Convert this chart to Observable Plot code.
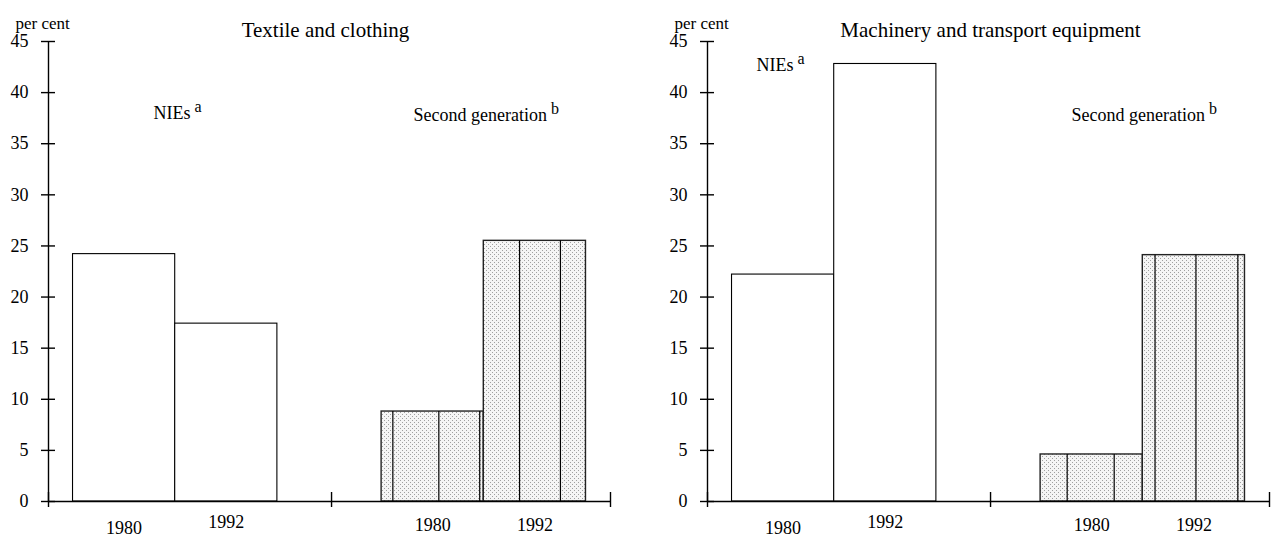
<!DOCTYPE html>
<html>
<head>
<meta charset="utf-8">
<script src="https://cdn.jsdelivr.net/npm/d3@7"></script>
<script src="https://cdn.jsdelivr.net/npm/@observablehq/plot@0.6"></script>
<style>
  html, body { margin: 0; padding: 0; background: #fff; }
  #wrap { display: flex; width: 1276px; height: 536px; overflow: hidden; }
  #wrap svg { display: block; }
</style>
</head>
<body>
<svg width="0" height="0" style="position:absolute">
  <defs>
    <pattern id="dots" width="4" height="4" patternUnits="userSpaceOnUse">
      <rect width="4" height="4" fill="#f5f5f5"></rect>
      <rect x="0" y="0" width="1" height="1" fill="#a0a0a0"></rect>
      <rect x="2" y="2" width="1" height="1" fill="#a0a0a0"></rect>
    </pattern>
  </defs>
</svg>
<div id="wrap"></div>
<script>
// ---- data ----
const groups = ["NIEs", "Second generation"];
const groupNotes = ["a", "b"];
const years = ["1980", "1992"];
const panelTitles = ["Textile and clothing", "Machinery and transport equipment"];
// order: NIEs 1980, NIEs 1992, Second generation 1980, Second generation 1992
const textileShares = [24.2, 17.4, 8.8, 25.5];
const machineryShares = [22.2, 42.8, 4.6, 24.1];
const yTicks = [0, 5, 10, 15, 20, 25, 30, 35, 40, 45];
const yUnit = "per cent";
// seams of the shaded fill inside each bar (fraction of bar width)
const textileSeams = [[], [], [0.11, 0.56, 0.96], [0.35, 0.75]];
const machinerySeams = [[], [], [0.26, 0.72], [0.12, 0.52, 0.93]];

// ---- layout ----
const groupStart = [0.24, 3.26];
const xMax = 5.5;
const midTick = 2.77;
const font = "'Liberation Serif', 'Times New Roman', serif";

function panel({title, values, seams, marginLeft, marginRight, titleDx, niesDx, niesDy, secondDx, secondDy, supDy}) {
  const rows = groups.flatMap((g, gi) => years.map((yr, yi) => ({
    group: g, gi, year: yr, yi,
    value: values[gi * 2 + yi],
    x1: groupStart[gi] + yi,
    x2: groupStart[gi] + yi + 1
  })));
  const seamRows = rows.flatMap((r, k) => seams[k].map(f => ({x: r.x1 + f, value: r.value})));
  const lab = (filter, dy) => Plot.text(rows.filter(filter), {
    x: d => (d.x1 + d.x2) / 2, y: 0, text: "year",
    dy, lineAnchor: "bottom", textAnchor: "middle", fontSize: 18
  });
  const svg = Plot.plot({
    width: 638, height: 536,
    marginTop: 41, marginBottom: 35, marginLeft, marginRight,
    x: {domain: [0, xMax], label: null},
    y: {domain: [0, 45], label: null},
    style: {fontFamily: font, fontSize: "18px", color: "black", background: "white", overflow: "visible"},
    marks: [
      Plot.rect(rows.filter(d => d.gi === 0), {x1: "x1", x2: "x2", y1: 0, y2: "value", fill: "white", stroke: "black", strokeWidth: 1.1}),
      Plot.rect(rows.filter(d => d.gi === 1), {x1: "x1", x2: "x2", y1: 0, y2: "value", fill: "url(#dots)", stroke: "#222", strokeWidth: 1.4}),
      Plot.ruleX(seamRows, {x: "x", y1: 0, y2: "value", stroke: "black", strokeWidth: 1.2}),
      Plot.ruleY([0], {stroke: "black", strokeWidth: 1.4}),
      Plot.ruleX([0], {stroke: "black", strokeWidth: 1.4}),
      Plot.axisY(yTicks, {tickSize: 14, dx: 7, fill: "none", strokeWidth: 1.4, label: null}),
      Plot.axisY(yTicks, {tickSize: 0, tickPadding: 20, fontSize: 18, label: null}),
      Plot.axisX([0, midTick, xMax], {tickSize: 15, dy: -9, fill: "none", strokeWidth: 1.4, label: null}),
      lab(d => d.gi === 0 && d.yi === 0, 32),
      lab(d => d.gi === 0 && d.yi === 1, 26),
      lab(d => d.gi === 1, 29),
      Plot.text([yUnit], {text: d => d, frameAnchor: "top-left", textAnchor: "start", lineAnchor: "bottom", dx: -33, dy: -13, fontSize: 17}),
      Plot.text([title], {text: d => d, frameAnchor: "top", textAnchor: "middle", lineAnchor: "bottom", dx: titleDx, dy: -5, fontSize: 21}),
      Plot.text([groups[0]], {text: d => d, frameAnchor: "top-left", textAnchor: "start", lineAnchor: "bottom", dx: niesDx, dy: niesDy, fontSize: 18}),
      Plot.text([groups[1]], {text: d => d, frameAnchor: "top-left", textAnchor: "start", lineAnchor: "bottom", dx: secondDx, dy: secondDy, fontSize: 18})
    ]
  });
  // superscript notes
  d3.select(svg).selectAll("text").each(function() {
    const t = this.textContent;
    const gi = groups.indexOf(t);
    if (gi >= 0) {
      d3.select(this).append("tspan").attr("dx", 4).attr("dy", supDy).attr("font-size", 16).text(groupNotes[gi]);
    }
  });
  return svg;
}

const wrap = document.getElementById("wrap");
wrap.appendChild(panel({
  title: panelTitles[0], values: textileShares, seams: textileSeams,
  marginLeft: 48, marginRight: 28, titleDx: -4,
  niesDx: 105, niesDy: 77, secondDx: 365, secondDy: 79, supDy: -7
}));
wrap.appendChild(panel({
  title: panelTitles[1], values: machineryShares, seams: machinerySeams,
  marginLeft: 69, marginRight: 7, titleDx: 2,
  niesDx: 49, niesDy: 29, secondDx: 364, secondDy: 79, supDy: -7
}));
</script>
</body>
</html>
